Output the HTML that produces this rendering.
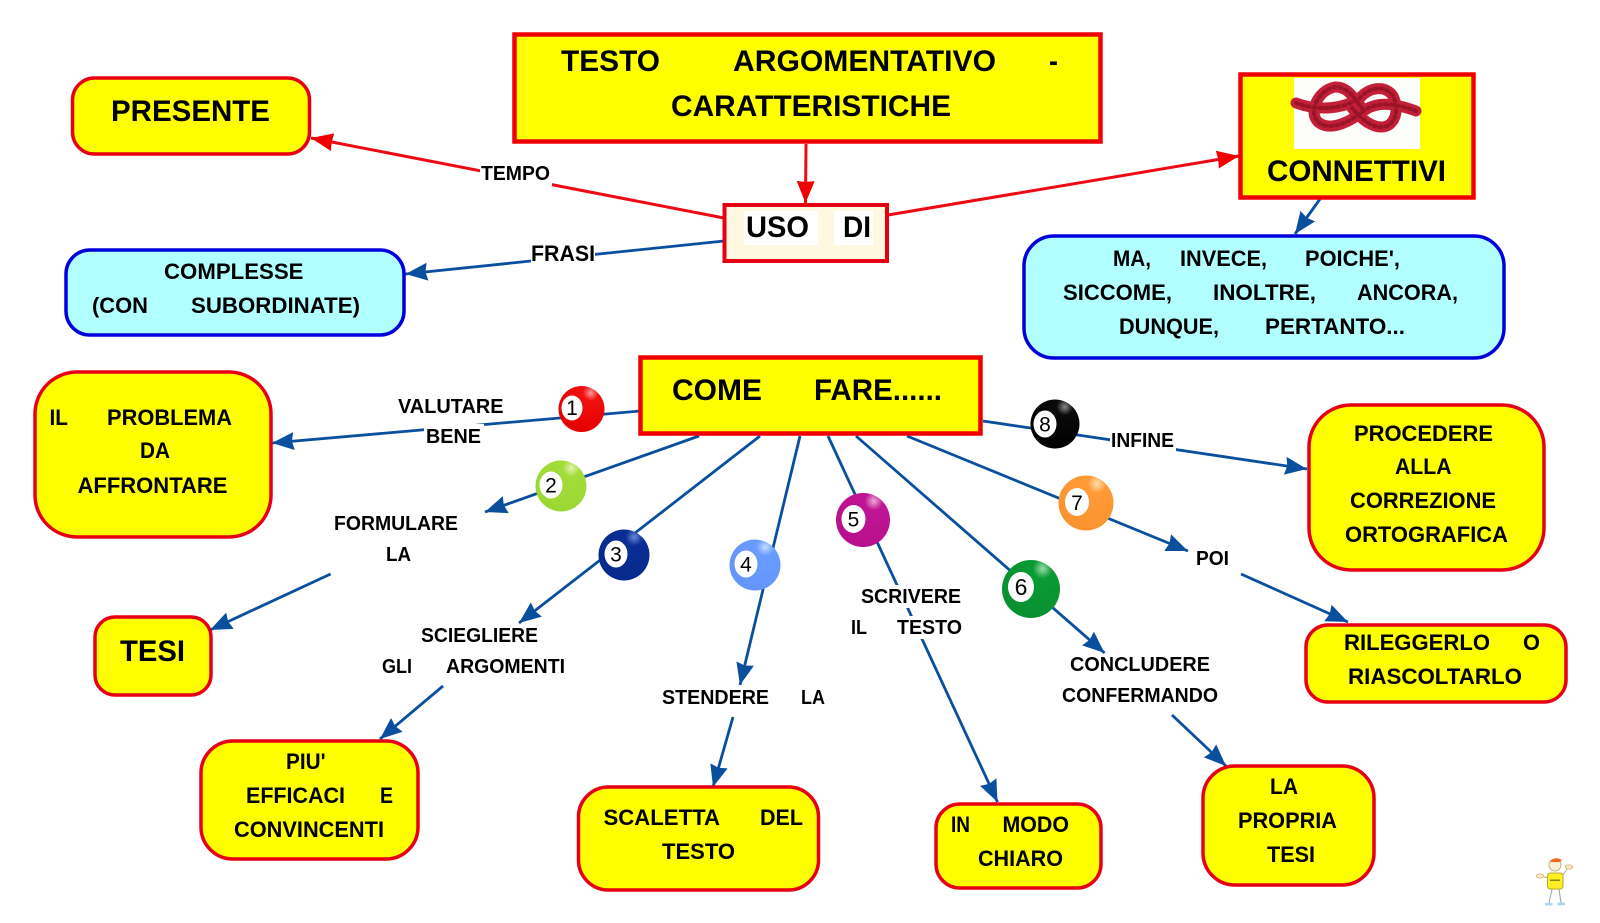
<!DOCTYPE html>
<html lang="it">
<head>
<meta charset="utf-8">
<title>Testo argomentativo - caratteristiche</title>
<style>
html,body{margin:0;padding:0;background:#fff;}
svg{display:block;}
text{font-family:"Liberation Sans",Arial,sans-serif;font-weight:bold;fill:#000;}
.a{font-size:30px;}
.b{font-size:22px;}
.c{font-size:20px;}
.n{font-size:21px;font-weight:normal;text-anchor:middle;}
.r{fill:#ffff00;stroke:#e60012;stroke-width:3.5;}
.s{fill:#ffff00;stroke:#f00000;stroke-width:4.5;}
.u{fill:#b2ffff;stroke:#0000dc;stroke-width:3.5;}
.lr{stroke:#ee0a14;stroke-width:3;fill:none;}
.lb{stroke:#0a4f9e;stroke-width:2.8;fill:none;}
.w{fill:#fff;}
</style>
</head>
<body>
<svg width="1600" height="923" viewBox="0 0 1600 923" xmlns="http://www.w3.org/2000/svg">
<defs>
<marker id="mr" markerUnits="userSpaceOnUse" markerWidth="26" markerHeight="22" refX="22" refY="10" orient="auto"><path d="M0,1 L22,10 L0,19 L1,10 z" fill="#f00000"/></marker>
<marker id="mb" markerUnits="userSpaceOnUse" markerWidth="26" markerHeight="22" refX="22" refY="10" orient="auto"><path d="M0,1 L22,10 L0,19 L2,10 z" fill="#0a4f9e"/></marker>
<radialGradient id="g1" cx="70%" cy="15%" r="85%"><stop offset="0" stop-color="#ff9a9a"/><stop offset=".2" stop-color="#f01010"/><stop offset="1" stop-color="#e60000"/></radialGradient>
<radialGradient id="g2" cx="70%" cy="15%" r="85%"><stop offset="0" stop-color="#e4f4b0"/><stop offset=".2" stop-color="#a2dc3a"/><stop offset="1" stop-color="#9cd834"/></radialGradient>
<radialGradient id="g3" cx="70%" cy="15%" r="85%"><stop offset="0" stop-color="#6a88d8"/><stop offset=".2" stop-color="#0a2d96"/><stop offset="1" stop-color="#082a8c"/></radialGradient>
<radialGradient id="g4" cx="70%" cy="15%" r="85%"><stop offset="0" stop-color="#c4dcff"/><stop offset=".2" stop-color="#6a9cff"/><stop offset="1" stop-color="#6496fa"/></radialGradient>
<radialGradient id="g5" cx="70%" cy="15%" r="85%"><stop offset="0" stop-color="#eca8d8"/><stop offset=".2" stop-color="#c01494"/><stop offset="1" stop-color="#b8108c"/></radialGradient>
<radialGradient id="g6" cx="70%" cy="15%" r="85%"><stop offset="0" stop-color="#98dca8"/><stop offset=".2" stop-color="#0a9a34"/><stop offset="1" stop-color="#089030"/></radialGradient>
<radialGradient id="g7" cx="70%" cy="15%" r="85%"><stop offset="0" stop-color="#ffe0b0"/><stop offset=".2" stop-color="#ff9a36"/><stop offset="1" stop-color="#fa9430"/></radialGradient>
<radialGradient id="g8" cx="70%" cy="15%" r="85%"><stop offset="0" stop-color="#888"/><stop offset=".2" stop-color="#0a0a0a"/><stop offset="1" stop-color="#000"/></radialGradient>
</defs>

<!-- connectors -->
<line class="lr" x1="806" y1="144" x2="805.5" y2="203" marker-end="url(#mr)"/>
<line class="lr" x1="724" y1="218" x2="311" y2="138" marker-end="url(#mr)"/>
<line class="lr" x1="888" y1="215" x2="1239" y2="156" marker-end="url(#mr)"/>
<line class="lb" x1="724" y1="241" x2="405.6" y2="274" marker-end="url(#mb)"/>
<line class="lb" x1="1320" y1="199" x2="1295" y2="234" marker-end="url(#mb)"/>
<line class="lb" x1="640" y1="411" x2="272" y2="443" marker-end="url(#mb)"/>
<line class="lb" x1="699" y1="436" x2="485" y2="512" marker-end="url(#mb)"/>
<line class="lb" x1="330.6" y1="574" x2="210" y2="630" marker-end="url(#mb)"/>
<line class="lb" x1="760" y1="436" x2="519" y2="623" marker-end="url(#mb)"/>
<line class="lb" x1="443" y1="686" x2="380" y2="739" marker-end="url(#mb)"/>
<line class="lb" x1="800" y1="436" x2="740" y2="685" marker-end="url(#mb)"/>
<line class="lb" x1="733" y1="717" x2="713" y2="787" marker-end="url(#mb)"/>
<line class="lb" x1="828" y1="436" x2="997.5" y2="802" marker-end="url(#mb)"/>
<line class="lb" x1="856" y1="436" x2="1104.6" y2="653" marker-end="url(#mb)"/>
<line class="lb" x1="1172" y1="715" x2="1226" y2="766" marker-end="url(#mb)"/>
<line class="lb" x1="907" y1="436" x2="1188" y2="551" marker-end="url(#mb)"/>
<line class="lb" x1="1241" y1="574" x2="1348" y2="622" marker-end="url(#mb)"/>
<line class="lb" x1="983" y1="421" x2="1307" y2="469" marker-end="url(#mb)"/>

<!-- label backgrounds -->
<rect class="w" x="480" y="162" width="72" height="24"/>
<rect class="w" x="531" y="240" width="64" height="26"/>
<rect class="w" x="396" y="394" width="110" height="24"/>
<rect class="w" x="424" y="424" width="60" height="24"/>
<rect class="w" x="1110" y="428" width="66" height="24"/>
<rect class="w" x="859" y="585" width="104" height="23"/>
<rect class="w" x="849" y="616" width="115" height="23"/>
<rect class="w" x="1194" y="548" width="37" height="22"/>

<!-- nodes -->
<rect class="s" x="514.5" y="34.5" width="586" height="107"/>
<rect class="r" x="72.5" y="78" width="237" height="76" rx="22"/>
<rect class="s" x="1240.5" y="74.5" width="233" height="123"/>
<rect x="1294" y="78" width="126" height="71" fill="#fdfdfb"/>
<g fill="none" stroke-linecap="round">
<path d="M1296,103 C1320,112 1345,108 1360,98 C1368,88 1385,84 1393,96 C1400,110 1395,128 1380,127 C1368,126 1358,115 1352,108" stroke="#c41f38" stroke-width="11"/>
<path d="M1416,111 C1400,105 1380,100 1365,110 C1350,122 1330,132 1318,122 C1308,112 1318,90 1335,87 C1348,86 1355,100 1362,108" stroke="#c41f38" stroke-width="11"/>
<path d="M1296,103 C1320,112 1345,108 1360,98 C1368,88 1385,84 1393,96 C1400,110 1395,128 1380,127 C1368,126 1358,115 1352,108" stroke="#9a1428" stroke-width="4" stroke-dasharray="2 4"/>
<path d="M1416,111 C1400,105 1380,100 1365,110 C1350,122 1330,132 1318,122 C1308,112 1318,90 1335,87 C1348,86 1355,100 1362,108" stroke="#9a1428" stroke-width="4" stroke-dasharray="2 4"/>
</g>
<rect x="724.5" y="205" width="162.5" height="56" fill="#fff8e0" stroke="#e60012" stroke-width="4"/>
<rect class="w" x="744" y="211" width="74" height="34"/>
<rect class="w" x="834" y="211" width="39" height="34"/>
<rect class="u" x="66" y="250" width="338" height="85" rx="24"/>
<rect class="u" x="1024" y="236" width="480" height="122" rx="30"/>
<rect class="s" x="640.5" y="357.5" width="340" height="76"/>
<rect class="r" x="35" y="372" width="236" height="165" rx="42"/>
<rect class="r" x="1309" y="405" width="235" height="165" rx="42"/>
<rect class="r" x="1306" y="625" width="260" height="77" rx="22"/>
<rect class="r" x="95" y="617" width="116" height="78" rx="20"/>
<rect class="r" x="201" y="741" width="217" height="118" rx="32"/>
<rect class="r" x="578.5" y="787" width="240" height="103" rx="30"/>
<rect class="r" x="936" y="804" width="165" height="84" rx="24"/>
<rect class="r" x="1203" y="766" width="171" height="119" rx="32"/>

<!-- balls -->
<g>
<circle cx="581.5" cy="409" r="23" fill="url(#g1)"/><ellipse cx="572" cy="408" rx="10.5" ry="12.5" fill="#fff"/><text class="n" x="572" y="415">1</text>
<circle cx="561" cy="486" r="25.5" fill="url(#g2)"/><ellipse cx="551" cy="485" rx="11.5" ry="13.5" fill="#fff"/><text class="n" x="551" y="492.500">2</text>
<circle cx="624" cy="555" r="25.5" fill="url(#g3)"/><ellipse cx="616" cy="554" rx="11.5" ry="13.5" fill="#fff"/><text class="n" x="616" y="561.500">3</text>
<circle cx="755" cy="565" r="25.5" fill="url(#g4)"/><ellipse cx="746" cy="564" rx="11.5" ry="13.5" fill="#fff"/><text class="n" x="746" y="571.500">4</text>
<circle cx="863" cy="520" r="27" fill="url(#g5)"/><ellipse cx="853.500" cy="519" rx="12" ry="14" fill="#fff"/><text class="n" x="853.500" y="526.500">5</text>
<circle cx="1031" cy="589" r="29" fill="url(#g6)"/><ellipse cx="1021" cy="587" rx="13" ry="15" fill="#fff"/><text class="n" x="1021" y="595" style="font-size:23px">6</text>
<circle cx="1086" cy="503" r="27.500" fill="url(#g7)"/><ellipse cx="1077" cy="502" rx="12" ry="14" fill="#fff"/><text class="n" x="1077" y="510">7</text>
<circle cx="1055" cy="424" r="24.500" fill="url(#g8)"/><ellipse cx="1045" cy="424" rx="11.500" ry="13.500" fill="#fff"/><text class="n" x="1045" y="431.500">8</text>
</g>

<!-- text -->
<text class="a" x="561" y="71" textLength="99" lengthAdjust="spacingAndGlyphs">TESTO</text>
<text class="a" x="733" y="71" textLength="263" lengthAdjust="spacingAndGlyphs">ARGOMENTATIVO</text>
<text class="a" x="1049" y="71" textLength="9" lengthAdjust="spacingAndGlyphs">-</text>
<text class="a" x="671" y="116" textLength="280" lengthAdjust="spacingAndGlyphs">CARATTERISTICHE</text>
<text class="a" x="111" y="121" textLength="159" lengthAdjust="spacingAndGlyphs">PRESENTE</text>
<text class="a" x="1267" y="181" textLength="179" lengthAdjust="spacingAndGlyphs">CONNETTIVI</text>
<text class="a" x="746" y="237" textLength="63" lengthAdjust="spacingAndGlyphs">USO</text>
<text class="a" x="843" y="237" textLength="28" lengthAdjust="spacingAndGlyphs">DI</text>
<text class="a" x="672" y="400" textLength="90" lengthAdjust="spacingAndGlyphs">COME</text>
<text class="a" x="814" y="400" textLength="128" lengthAdjust="spacingAndGlyphs">FARE......</text>
<text class="a" x="120" y="661" textLength="65" lengthAdjust="spacingAndGlyphs">TESI</text>

<text class="c" x="481" y="180" textLength="69" lengthAdjust="spacingAndGlyphs">TEMPO</text>
<text class="b" x="531" y="261" textLength="64" lengthAdjust="spacingAndGlyphs">FRASI</text>
<text class="b" x="164" y="279" textLength="139.500" lengthAdjust="spacingAndGlyphs">COMPLESSE</text>
<text class="b" x="92" y="313" textLength="56" lengthAdjust="spacingAndGlyphs">(CON</text>
<text class="b" x="191" y="313" textLength="169" lengthAdjust="spacingAndGlyphs">SUBORDINATE)</text>

<text class="b" x="1113" y="266" textLength="38" lengthAdjust="spacingAndGlyphs">MA,</text>
<text class="b" x="1180" y="266" textLength="87" lengthAdjust="spacingAndGlyphs">INVECE,</text>
<text class="b" x="1305" y="266" textLength="95" lengthAdjust="spacingAndGlyphs">POICHE',</text>
<text class="b" x="1063" y="300" textLength="109" lengthAdjust="spacingAndGlyphs">SICCOME,</text>
<text class="b" x="1213" y="300" textLength="103" lengthAdjust="spacingAndGlyphs">INOLTRE,</text>
<text class="b" x="1357" y="300" textLength="101" lengthAdjust="spacingAndGlyphs">ANCORA,</text>
<text class="b" x="1119" y="334" textLength="100" lengthAdjust="spacingAndGlyphs">DUNQUE,</text>
<text class="b" x="1265" y="334" textLength="140" lengthAdjust="spacingAndGlyphs">PERTANTO...</text>

<text class="c" x="398" y="413" textLength="105.500" lengthAdjust="spacingAndGlyphs">VALUTARE</text>
<text class="c" x="426" y="443" textLength="55" lengthAdjust="spacingAndGlyphs">BENE</text>
<text class="b" x="49.500" y="425" textLength="18.500" lengthAdjust="spacingAndGlyphs">IL</text>
<text class="b" x="107" y="425" textLength="125" lengthAdjust="spacingAndGlyphs">PROBLEMA</text>
<text class="b" x="140" y="458" textLength="30" lengthAdjust="spacingAndGlyphs">DA</text>
<text class="b" x="77.500" y="493" textLength="150" lengthAdjust="spacingAndGlyphs">AFFRONTARE</text>

<text class="c" x="334" y="530" textLength="124" lengthAdjust="spacingAndGlyphs">FORMULARE</text>
<text class="c" x="386" y="561" textLength="25" lengthAdjust="spacingAndGlyphs">LA</text>
<text class="c" x="421" y="642" textLength="117" lengthAdjust="spacingAndGlyphs">SCIEGLIERE</text>
<text class="c" x="382" y="673" textLength="30" lengthAdjust="spacingAndGlyphs">GLI</text>
<text class="c" x="446" y="673" textLength="119" lengthAdjust="spacingAndGlyphs">ARGOMENTI</text>

<text class="b" x="286" y="769" textLength="39.500" lengthAdjust="spacingAndGlyphs">PIU'</text>
<text class="b" x="246" y="803" textLength="99" lengthAdjust="spacingAndGlyphs">EFFICACI</text>
<text class="b" x="380" y="803" textLength="13" lengthAdjust="spacingAndGlyphs">E</text>
<text class="b" x="234" y="837" textLength="150" lengthAdjust="spacingAndGlyphs">CONVINCENTI</text>

<text class="c" x="662" y="704" textLength="107" lengthAdjust="spacingAndGlyphs">STENDERE</text>
<text class="c" x="801" y="704" textLength="24" lengthAdjust="spacingAndGlyphs">LA</text>
<text class="b" x="603.500" y="825" textLength="116.500" lengthAdjust="spacingAndGlyphs">SCALETTA</text>
<text class="b" x="760" y="825" textLength="43" lengthAdjust="spacingAndGlyphs">DEL</text>
<text class="b" x="662" y="859" textLength="73" lengthAdjust="spacingAndGlyphs">TESTO</text>

<text class="c" x="861" y="603" textLength="100" lengthAdjust="spacingAndGlyphs">SCRIVERE</text>
<text class="c" x="851" y="634" textLength="16" lengthAdjust="spacingAndGlyphs">IL</text>
<text class="c" x="897" y="634" textLength="65" lengthAdjust="spacingAndGlyphs">TESTO</text>
<text class="b" x="951" y="832" textLength="19" lengthAdjust="spacingAndGlyphs">IN</text>
<text class="b" x="1002.500" y="832" textLength="66.500" lengthAdjust="spacingAndGlyphs">MODO</text>
<text class="b" x="978" y="866" textLength="85" lengthAdjust="spacingAndGlyphs">CHIARO</text>

<text class="c" x="1070" y="671" textLength="140" lengthAdjust="spacingAndGlyphs">CONCLUDERE</text>
<text class="c" x="1062" y="702" textLength="156" lengthAdjust="spacingAndGlyphs">CONFERMANDO</text>
<text class="b" x="1270" y="794" textLength="28" lengthAdjust="spacingAndGlyphs">LA</text>
<text class="b" x="1238" y="828" textLength="99" lengthAdjust="spacingAndGlyphs">PROPRIA</text>
<text class="b" x="1267" y="862" textLength="48" lengthAdjust="spacingAndGlyphs">TESI</text>

<text class="c" x="1196" y="565" textLength="33" lengthAdjust="spacingAndGlyphs">POI</text>
<text class="b" x="1344" y="650" textLength="146" lengthAdjust="spacingAndGlyphs">RILEGGERLO</text>
<text class="b" x="1523" y="650" textLength="17" lengthAdjust="spacingAndGlyphs">O</text>
<text class="b" x="1348" y="684" textLength="174" lengthAdjust="spacingAndGlyphs">RIASCOLTARLO</text>

<text class="c" x="1111" y="447" textLength="63" lengthAdjust="spacingAndGlyphs">INFINE</text>
<text class="b" x="1354" y="441" textLength="139" lengthAdjust="spacingAndGlyphs">PROCEDERE</text>
<text class="b" x="1395" y="474" textLength="56.500" lengthAdjust="spacingAndGlyphs">ALLA</text>
<text class="b" x="1350" y="508" textLength="146" lengthAdjust="spacingAndGlyphs">CORREZIONE</text>
<text class="b" x="1345" y="542" textLength="163" lengthAdjust="spacingAndGlyphs">ORTOGRAFICA</text>

<!-- little mascot -->
<g>
<path d="M1552,889 L1549,903 M1559,889 L1561,903" stroke="#9aa0a8" stroke-width="1" fill="none"/>
<path d="M1548,878 L1541,876 M1562,876 L1568,868" stroke="#b8a880" stroke-width="1" fill="none"/>
<circle cx="1555" cy="865" r="6" fill="#fdf0d8" stroke="#c8b078" stroke-width="1"/>
<path d="M1550,861 Q1556,856 1562,860 L1560,862 L1551,862 z" fill="#f0661e"/>
<rect x="1547.500" y="873" width="15.500" height="16" rx="3" fill="#ffee22" stroke="#b8a830" stroke-width="1"/>
<rect x="1550" y="879.500" width="10" height="1.500" fill="#8a8420"/>
<ellipse cx="1540" cy="876" rx="3.800" ry="2.200" fill="#fbe6c0" stroke="#c8b078" stroke-width=".7"/>
<ellipse cx="1569" cy="867" rx="3.800" ry="2.200" fill="#fbe6c0" stroke="#c8b078" stroke-width=".7"/>
<rect x="1545" y="903" width="7.500" height="2.500" fill="#a8d8f0"/>
<rect x="1557.500" y="902.500" width="7.500" height="2.800" fill="#a8d8f0"/>
</g>
</svg>
</body>
</html>
